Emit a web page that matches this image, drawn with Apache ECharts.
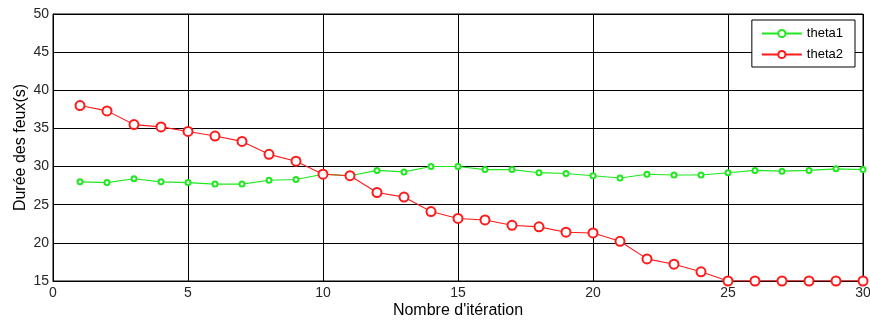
<!DOCTYPE html>
<html>
<head>
<meta charset="utf-8">
<script src="https://cdn.jsdelivr.net/npm/echarts@6/dist/echarts.min.js"></script>
<style>html,body{margin:0;padding:0;background:#fff;}#c{width:870px;height:322px;}</style>
</head>
<body>
<div id="c"></div>
<script>
const iterations = [1,2,3,4,5,6,7,8,9,10,11,12,13,14,15,16,17,18,19,20,21,22,23,24,25,26,27,28,29,30];
const theta1 = [28.0,27.9,28.4,28.0,27.9,27.7,27.7,28.2,28.3,29.0,28.8,29.5,29.3,30.0,30.0,29.6,29.6,29.2,29.1,28.8,28.5,29.0,28.9,28.9,29.2,29.5,29.4,29.5,29.7,29.6];
const theta2 = [38.0,37.3,35.5,35.2,34.6,34.0,33.3,31.6,30.7,29.0,28.8,26.6,26.0,24.1,23.2,23.0,22.3,22.1,21.4,21.3,20.2,17.9,17.2,16.2,15.0,15.0,15.0,15.0,15.0,15.0];

const chart = echarts.init(document.getElementById('c'));
const font = 'Liberation Sans, Arial, sans-serif';
chart.setOption({
  animation: false,
  backgroundColor: '#fff',
  grid: { left: 53, right: 7, top: 14, bottom: 41, show: true, borderColor: '#000', borderWidth: 1,
          containLabel: false, outerBoundsMode: 'none' },
  legend: {
    orient: 'vertical', right: 15, top: 20,
    backgroundColor: '#fff', borderColor: '#000', borderWidth: 1,
    padding: [7, 12, 6, 9], itemGap: 8, itemWidth: 40, itemHeight: 9,
    textStyle: { fontFamily: font, fontSize: 13, color: '#000' },
    data: ['theta1', 'theta2']
  },
  xAxis: {
    type: 'value', min: 0, max: 30, interval: 5,
    name: "Nombre d'itération", nameLocation: 'middle', nameGap: 22, nameMoveOverlap: false,
    nameTextStyle: { fontFamily: font, fontSize: 16, color: '#000' },
    axisLine: { show: true, lineStyle: { color: '#000' } },
    axisTick: { show: false },
    axisLabel: { fontFamily: font, fontSize: 14, color: '#262626', margin: 5 },
    splitLine: { show: true, lineStyle: { color: '#000', width: 1 } }
  },
  yAxis: {
    type: 'value', min: 15, max: 50, interval: 5,
    name: 'Durée des feux(s)', nameLocation: 'middle', nameGap: 24, nameMoveOverlap: false,
    nameTextStyle: { fontFamily: font, fontSize: 16, color: '#000' },
    axisLine: { show: true, lineStyle: { color: '#000' } },
    axisTick: { show: false },
    axisLabel: { fontFamily: font, fontSize: 14, color: '#262626', margin: 4 },
    splitLine: { show: true, lineStyle: { color: '#000', width: 1 } }
  },
  series: [
    {
      name: 'theta1', type: 'line',
      data: iterations.map((x, i) => [x, theta1[i]]),
      color: '#1fe81f',
      lineStyle: { color: '#1fe81f', width: 1.1 },
      itemStyle: { color: '#1fe81f', borderWidth: 1.2 },
      symbol: 'emptyCircle', symbolSize: 5, z: 3
    },
    {
      name: 'theta2', type: 'line',
      data: iterations.map((x, i) => [x, theta2[i]]),
      color: '#ff1a1a',
      lineStyle: { color: '#ff1a1a', width: 1.1 },
      itemStyle: { color: '#ff1a1a', borderWidth: 0.9 },
      symbol: 'emptyCircle', symbolSize: 9, z: 4
    }
  ]
});
</script>
</body>
</html>
